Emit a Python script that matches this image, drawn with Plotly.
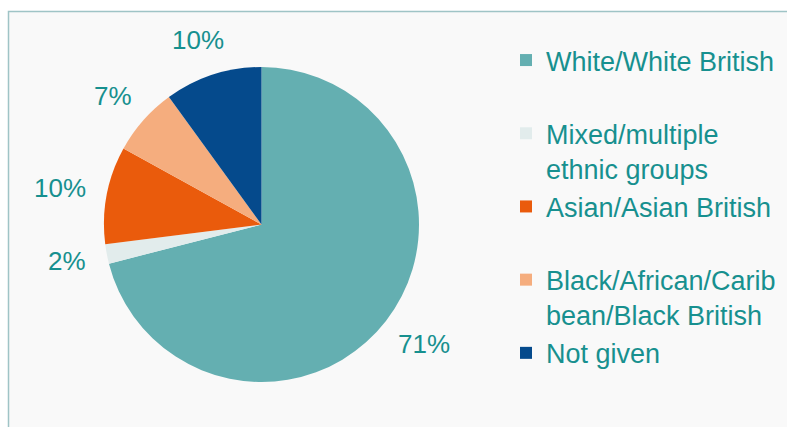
import math
import plotly.graph_objects as go

categories = ["White/White British", "Mixed/multiple<br>ethnic groups", "Asian/Asian British",
              "Black/African/Carib<br>bean/Black British", "Not given"]
values = [71, 2, 10, 7, 10]
colors = ["#64afb1", "#e2ecec", "#ea5b0c", "#f5ad7e", "#054a8c"]

W, H = 787, 427
TEXT = "#17908f"
FONT = "Arial, Liberation Sans, sans-serif"
LBL_SIZE = 26

# pie geometry (pixels)
CX, CY, R = 261.5, 224.5, 157.5
GAP = 22  # gap between pie edge and label box

# pad single-line legend entries to two lines so all entries get equal slots
legend_labels = [c if "<br>" in c else c + "<br>&#160;" for c in categories]

fig = go.Figure(go.Pie(
    labels=legend_labels,
    values=values,
    marker=dict(colors=colors, line=dict(width=0)),
    sort=False,
    direction="clockwise",
    rotation=0,
    textinfo="none",
    hoverinfo="label+percent",
    domain=dict(x=[(CX - R) / W, (CX + R) / W], y=[1 - (CY + R) / H, 1 - (CY - R) / H]),
))

# percentage labels outside each slice ("outside end"), box offset along mid-angle
total = sum(values)
annotations = []
cum = 0
for v in values:
    mid = (cum + v / 2) / total * 2 * math.pi
    cum += v
    txt = f"{round(v / total * 100)}%"
    dx, dy = math.sin(mid), -math.cos(mid)
    ndig = len(txt) - 1
    hw = (0.556 * ndig + 0.889) * LBL_SIZE / 2
    hh = 15
    px = CX + (R + GAP) * dx + hw * dx
    py = CY + (R + GAP) * dy + hh * dy
    annotations.append(dict(
        x=px / W, y=1 - py / H, xref="paper", yref="paper",
        text=txt, showarrow=False,
        xanchor="center", yanchor="middle",
        font=dict(size=LBL_SIZE, color=TEXT, family=FONT),
    ))

fig.update_layout(
    width=W, height=H,
    margin=dict(l=0, r=0, t=0, b=0),
    paper_bgcolor="white",
    plot_bgcolor="white",
    font=dict(family=FONT, color=TEXT, size=27),
    showlegend=True,
    legend=dict(
        x=506 / W, y=1 - 36 / H, xanchor="left", yanchor="top",
        font=dict(size=27, color=TEXT, family=FONT),
        valign="top",
        bgcolor="rgba(0,0,0,0)",
        itemwidth=30,
    ),
    annotations=annotations,
    shapes=[dict(
        type="rect", xref="paper", yref="paper",
        x0=8.5 / W, x1=1.02, y0=-0.02, y1=1 - 11.5 / H,
        fillcolor="#f9f9f9", line=dict(color="#9fc4c6", width=1.5),
        layer="below",
    )],
)

fig.write_html("out.html")
